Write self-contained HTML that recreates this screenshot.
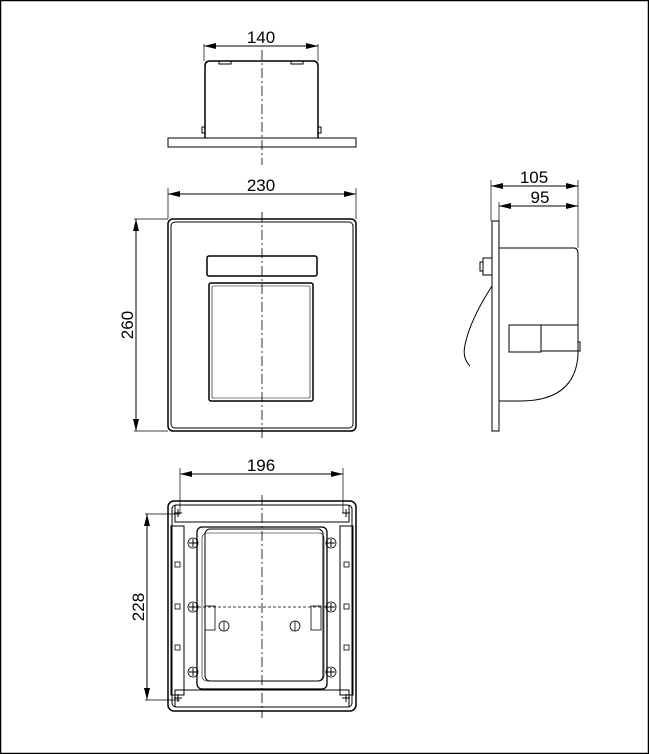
<!DOCTYPE html>
<html><head><meta charset="utf-8"><style>
html,body{margin:0;padding:0;background:#fff}
svg{display:block}
text{font-family:"Liberation Sans",sans-serif;font-size:17px;fill:#000}
</style></head><body>
<svg width="649" height="754" viewBox="0 0 649 754" xmlns="http://www.w3.org/2000/svg">
<defs>
<marker id="a" viewBox="0 0 12 6" refX="12" refY="3" markerWidth="12" markerHeight="6" orient="auto-start-reverse" markerUnits="userSpaceOnUse"><path d="M0,0L12,3L0,6z" fill="#000"/></marker>
</defs>
<rect x="0.5" y="0.5" width="648" height="753" fill="none" stroke="#000" stroke-width="1.5"/>
<g fill="none" stroke="#000" stroke-width="1">
<!-- TOP VIEW -->
<path d="M205,138 V66 Q205,61 210,61 H313 Q318,61 318,66 V138" stroke-width="1.5"/>
<rect x="168" y="138" width="188" height="9"/>
<rect x="219" y="61" width="12" height="3"/><rect x="291" y="61" width="12" height="3"/>
<rect x="202" y="127" width="3" height="6"/><rect x="318" y="127" width="3" height="6"/>
<line x1="204" y1="44" x2="204" y2="61" stroke-width="0.7"/><line x1="318" y1="44" x2="318" y2="61" stroke-width="0.7"/>
<line x1="204" y1="46" x2="318" y2="46" marker-start="url(#a)" marker-end="url(#a)"/>
<line x1="262" y1="50" x2="262" y2="165" stroke-dasharray="10,3,2,3" stroke-width="0.8"/>
<!-- FRONT VIEW -->
<rect x="168" y="219" width="188" height="212" rx="5" stroke-width="1.5"/>
<rect x="171" y="222" width="182" height="206" rx="4"/>
<rect x="207" y="256" width="110" height="20" rx="2" stroke-width="1.5"/>
<rect x="209" y="283" width="104" height="118" rx="2" stroke-width="1.5"/>
<rect x="212" y="286" width="98" height="112" rx="1" stroke-width="0.6"/>
<line x1="168" y1="188" x2="168" y2="219" stroke-width="0.7"/><line x1="356" y1="188" x2="356" y2="219" stroke-width="0.7"/>
<line x1="168" y1="194" x2="356" y2="194" marker-start="url(#a)" marker-end="url(#a)"/>
<line x1="134" y1="219" x2="168" y2="219" stroke-width="0.7"/><line x1="134" y1="431" x2="168" y2="431" stroke-width="0.7"/>
<line x1="136" y1="219" x2="136" y2="431" marker-start="url(#a)" marker-end="url(#a)"/>
<line x1="262" y1="212" x2="262" y2="440" stroke-dasharray="10,3,2,3" stroke-width="0.8"/>
<!-- SIDE VIEW -->
<rect x="492" y="221" width="7" height="210"/>
<path d="M499,248 H574 Q578,248 578,254 V355 M578,355 Q575,401 520,401 H499"/>
<rect x="509" y="325" width="32" height="27"/>
<line x1="541" y1="325" x2="578" y2="325"/><line x1="541" y1="351" x2="578" y2="351"/>
<rect x="578" y="342" width="2" height="9"/>
<rect x="483" y="258" width="9" height="17"/><rect x="480" y="262" width="3" height="9"/>
<path d="M492,286 Q470,320 465,345 Q462,358 470,366"/>
<line x1="491" y1="180" x2="491" y2="221" stroke-width="0.7"/><line x1="578" y1="180" x2="578" y2="248" stroke-width="0.7"/>
<line x1="499" y1="202" x2="499" y2="221" stroke-width="0.7"/>
<line x1="491" y1="186" x2="578" y2="186" marker-start="url(#a)" marker-end="url(#a)"/>
<line x1="499" y1="206" x2="578" y2="206" marker-start="url(#a)" marker-end="url(#a)"/>
<!-- BOTTOM VIEW -->
<rect x="168" y="501" width="188" height="210" rx="6" stroke-width="1.5"/>
<rect x="172" y="505" width="180" height="202" rx="4"/>
<path d="M175,505 V522 H349 V505"/><path d="M175,707 V690 H349 V707"/>
<rect x="171" y="526" width="13" height="169"/><rect x="340" y="526" width="13" height="169"/>
<rect x="197" y="527" width="130" height="162" rx="5" stroke-width="1.3"/>
<rect x="205" y="529" width="118" height="152" rx="5"/>
<rect x="202" y="533" width="122" height="148" rx="5" stroke-width="0.6"/>
<g stroke-width="0.8">
<rect x="175" y="562" width="5" height="5"/><rect x="175" y="604" width="5" height="5"/><rect x="175" y="645" width="5" height="5"/>
<rect x="344" y="562" width="5" height="5"/><rect x="344" y="604" width="5" height="5"/><rect x="344" y="645" width="5" height="5"/>
<circle cx="193" cy="543" r="5"/><circle cx="331" cy="543" r="5"/>
<circle cx="193" cy="607" r="5"/><circle cx="331" cy="607" r="5"/>
<circle cx="193" cy="672" r="5"/><circle cx="331" cy="672" r="5"/>
<circle cx="224" cy="626" r="5"/><circle cx="295" cy="626" r="5"/>
<line x1="224" y1="621" x2="224" y2="631"/><line x1="295" y1="621" x2="295" y2="631"/>
<rect x="205" y="606" width="10" height="24"/><rect x="311" y="606" width="10" height="24"/>
</g>
<g stroke-width="1">
<path d="M174,513h8M178,509v8M342,513h8M346,509v8M174,698h8M178,694v8M342,698h8M346,694v8M189,543h8M193,539v8M327,543h8M331,539v8M189,607h8M193,603v8M327,607h8M331,603v8M189,672h8M193,668v8M327,672h8M331,668v8"/>
</g>
<line x1="193" y1="607" x2="331" y2="607" stroke-dasharray="3,2" stroke-width="0.7"/>
<line x1="180" y1="468" x2="180" y2="513" stroke-width="0.7"/><line x1="343" y1="468" x2="343" y2="513" stroke-width="0.7"/>
<line x1="180" y1="474" x2="343" y2="474" marker-start="url(#a)" marker-end="url(#a)"/>
<line x1="145" y1="514" x2="180" y2="514" stroke-width="0.7"/><line x1="145" y1="700" x2="180" y2="700" stroke-width="0.7"/>
<line x1="147" y1="514" x2="147" y2="700" marker-start="url(#a)" marker-end="url(#a)"/>
<line x1="262" y1="495" x2="262" y2="718" stroke-dasharray="10,3,2,3" stroke-width="0.8"/>
</g>
<text x="261" y="43" text-anchor="middle">140</text>
<text x="261" y="191" text-anchor="middle">230</text>
<text x="534" y="183" text-anchor="middle">105</text>
<text x="540" y="203" text-anchor="middle">95</text>
<text x="261" y="471" text-anchor="middle">196</text>
<text transform="translate(133,325) rotate(-90)" text-anchor="middle">260</text>
<text transform="translate(144,607) rotate(-90)" text-anchor="middle">228</text>
</svg>
</body></html>
